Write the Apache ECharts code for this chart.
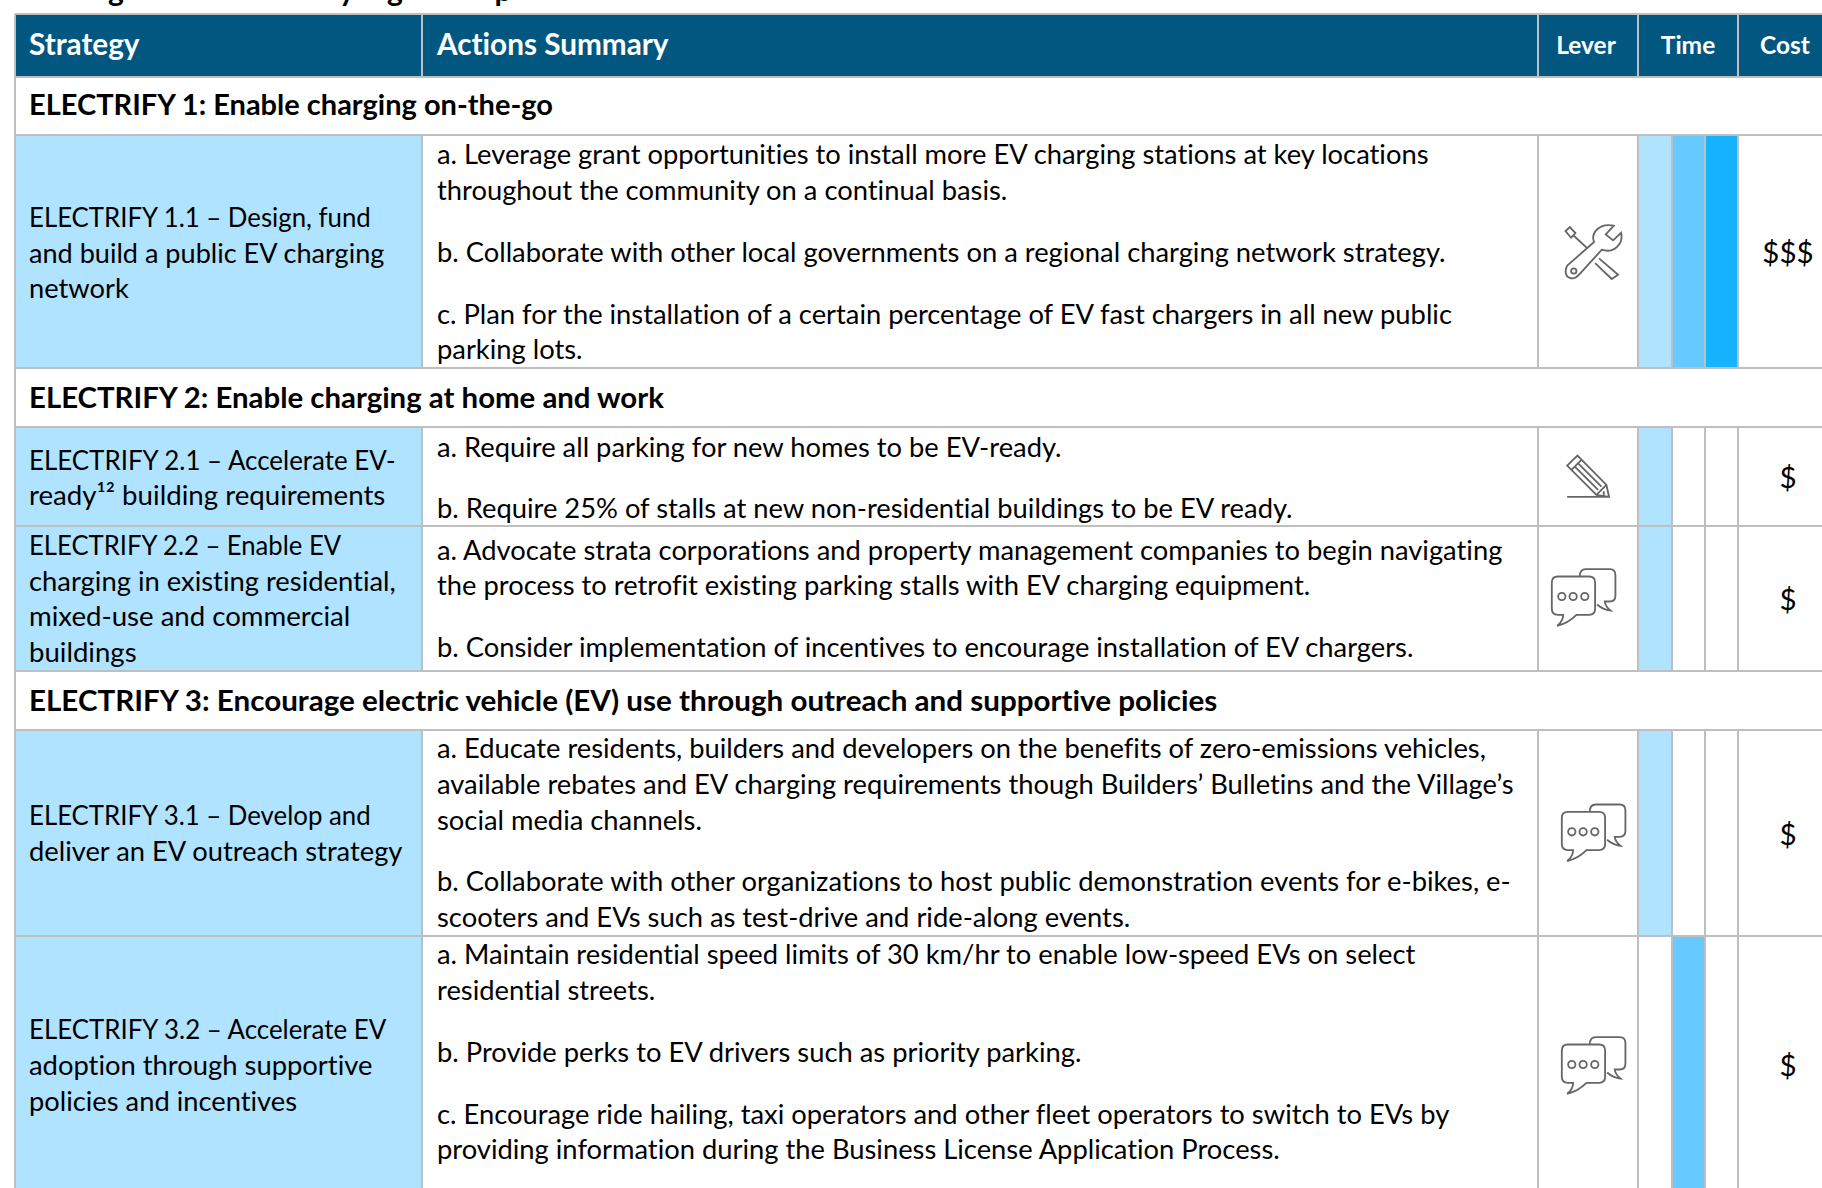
<!DOCTYPE html>
<html><head><meta charset="utf-8">
<style>html,body{margin:0;padding:0;background:#fff}#c{width:1822px;height:1188px}svg text{font-variant-ligatures:none!important}</style>
<script src="https://cdn.jsdelivr.net/npm/echarts@6/dist/echarts.min.js"></script></head>
<body><div id="c"></div>
<script>
// ---- table content ----
const titleFragments = ['g','y','g','p'];   // only the descenders of the cut-off heading are visible
const headers = ['Strategy','Actions Summary','Lever','Time','Cost'];
const sections = ['ELECTRIFY 1: Enable charging on-the-go','ELECTRIFY 2: Enable charging at home and work','ELECTRIFY 3: Encourage electric vehicle (EV) use through outreach and supportive policies'];
const strategies = [
 ['ELECTRIFY 1.1 – Design, fund','and build a public EV charging','network'],
 ['ELECTRIFY 2.1 – Accelerate EV-','ready¹² building requirements'],
 ['ELECTRIFY 2.2 – Enable EV','charging in existing residential,','mixed-use and commercial','buildings'],
 ['ELECTRIFY 3.1 – Develop and','deliver an EV outreach strategy'],
 ['ELECTRIFY 3.2 – Accelerate EV','adoption through supportive','policies and incentives']
];
const actions = [
 ['a. Leverage grant opportunities to install more EV charging stations at key locations','throughout the community on a continual basis.','','b. Collaborate with other local governments on a regional charging network strategy.','','c. Plan for the installation of a certain percentage of EV fast chargers in all new public','parking lots.'],
 ['a. Require all parking for new homes to be EV-ready.','','b. Require 25% of stalls at new non-residential buildings to be EV ready.'],
 ['a. Advocate strata corporations and property management companies to begin navigating','the process to retrofit existing parking stalls with EV charging equipment.','','b. Consider implementation of incentives to encourage installation of EV chargers.'],
 ['a. Educate residents, builders and developers on the benefits of zero-emissions vehicles,','available rebates and EV charging requirements though Builders’ Bulletins and the Village’s','social media channels.','','b. Collaborate with other organizations to host public demonstration events for e-bikes, e-','scooters and EVs such as test-drive and ride-along events.'],
 ['a. Maintain residential speed limits of 30 km/hr to enable low-speed EVs on select','residential streets.','','b. Provide perks to EV drivers such as priority parking.','','c. Encourage ride hailing, taxi operators and other fleet operators to switch to EVs by','providing information during the Business License Application Process.']
];
const levers = ['tools','pencil','chat','chat','chat'];
const timeLevels = [[0,1,2],[0],[0],[0],[1]];
const costs = ['$$$','$','$','$','$'];

// ---- layout ----
const W=1822,H=1188;
const colX=[15,422,1538,1638,1672,1705,1738,1822];
const rowY=[14,77,135,368,427,526,671,730,936,1188];
const sectionRows=[[77,135],[368,427],[671,730]];
const strategyRows=[[135,368],[427,526],[526,671],[730,936],[936,1188]];
const strategyCentre=[252.2,477.2,598,832.5,1064.5];
const actionTop=[153.6,446,549,747.5,953.6];
const costCentre=[251.5,476,598,833,1064];
const leverCentre=[[1593.3,252.3],[1588.3,476.7],[1583.3,596.7],[1593.3,832],[1593.3,1064.7]];
const titleX=[116,347,395,503];
const sectionStretch=[1,1.013,1.02];
const strategyStretch=[[.945,.993,1],[.949,1.013],[.94,1.003,1.011,1.01],[.945,1],[.948,1.003,1]];
const LH=35.8, blank=26;
const timeColors=['#B0E3FF','#66CAFF','#17B3FF'];
const rule='#BFBFBF', ink='#000000', head='#015780', stratFill='#B0E3FF';
const FONT='Lato';
const BODY=27.3, ACTION=27.33, SECTION=29, COST=29.5;

// icon outlines, in 3x units around the icon's centre
const ICONS={
 tools:[[580,757],'M503 797 L583 727 C572 700 600 668 642 678 L618 704 L640 722 L664 699 C672 735 640 762 606 750 L538 825 C520 845 495 835 498 812 C499 805 500 800 503 797 Z M530 814 A8 8 0 1 0 514 814 A8 8 0 1 0 530 814 Z M497 694 L510 682 L527 700 L514 714 Z M522 708 L562 745 M598 776 L655 825 L636 838 L586 790'],
 pencil:[[565,230],'M502 197 L533 167 L620 255 L628 291 L590 285 Z M515 210 L545 180 M525 200 L595 270 M535 190 L605 260 M590 285 L620 255 M502 291 L628 291 M612 274 L612 291'],
 chat:[[550,590],'M456 548 Q456 530 474 530 L568 530 Q586 530 586 548 L586 627 Q586 645 568 645 L530 645 Q505 670 472 678 Q490 665 490 645 L474 645 Q456 645 456 627 Z M540 530 Q540 508 558 508 L630 508 Q647 508 647 526 L647 587 Q647 605 630 605 L615 605 Q617 620 632 632 Q610 630 592 614 M497 590 A11 11 0 1 0 475 590 A11 11 0 1 0 497 590 Z M531 590 A11 11 0 1 0 509 590 A11 11 0 1 0 531 590 Z M566 590 A11 11 0 1 0 544 590 A11 11 0 1 0 566 590 Z']
};

function buildItems(){
 const it=[];
 const rect=(x0,y0,x1,y1,fill)=>it.push({k:'r',x0,y0,x1,y1,fill});
 const line=(x0,y0,x1,y1)=>it.push({k:'l',x0,y0,x1,y1});
 const txt=(x,y,text,o)=>it.push(Object.assign({k:'t',x,y,text},o));
 titleFragments.forEach((t,i)=>txt(titleX[i],-11,t,{size:30,weight:700,color:ink,align:'center'}));
 rect(colX[0],rowY[0],W,rowY[1],head);
 strategyRows.forEach((r,i)=>{
  rect(colX[0],r[0],colX[1],r[1],stratFill);
  timeLevels[i].forEach(l=>rect(colX[3+l],r[0],colX[4+l],r[1],timeColors[l]));
 });
 rowY.slice(0,-1).forEach(y=>line(colX[0],y,W,y));
 line(colX[0],rowY[0],colX[0],H);
 [colX[1],colX[2],colX[3],colX[6]].forEach(x=>line(x,rowY[0],x,rowY[1]));
 strategyRows.forEach(r=>{
  colX.slice(1,7).forEach(x=>line(x,r[0],x,r[1]));
 });
 txt(29,43.6,headers[0],{size:29.7,weight:700,color:'#fff'});
 txt(437,43.6,headers[1],{size:29.7,weight:700,color:'#fff'});
 txt(1586,44,headers[2],{size:24.5,weight:700,color:'#fff',align:'center'});
 txt(1688,44,headers[3],{size:24.5,weight:700,color:'#fff',align:'center'});
 txt(1785,44,headers[4],{size:24.5,weight:700,color:'#fff',align:'center'});
 sectionRows.forEach((r,i)=>txt(29,(r[0]+r[1])/2-1.5+[-1,1,1][i],sections[i],{size:SECTION,weight:700,color:ink,sx:sectionStretch[i]}));
 strategyRows.forEach((r,i)=>{
  const s=strategies[i], mid=strategyCentre[i];
  s.forEach((t,j)=>txt(29,mid+(j-(s.length-1)/2)*35.6,t,{size:BODY,color:ink,sx:strategyStretch[i][j]}));
  let y=actionTop[i];
  actions[i].forEach(t=>{
   if(t===''){y+=blank;return;}
   txt(437,y,t,{size:ACTION,color:ink});y+=LH;
  });
  txt(1788,costCentre[i],costs[i],{size:COST,color:ink,align:'center'});
  it.push({k:'i',name:levers[i],cx:leverCentre[i][0],cy:leverCentre[i][1]});
 });
 return it;
}
const items=buildItems();

const chart=echarts.init(document.getElementById('c'),null,{renderer:'svg'});
chart.setOption({
 animation:false,
 backgroundColor:'#fff',
 grid:{left:0,top:0,right:0,bottom:0},
 xAxis:{type:'value',min:0,max:W,show:false},
 yAxis:{type:'value',min:0,max:H,inverse:true,show:false},
 series:[{
  type:'custom',coordinateSystem:'cartesian2d',clip:false,silent:true,
  data:items.map((d,i)=>[i]),
  encode:{x:0,y:0},
  renderItem(params,api){
   const d=items[params.dataIndex];
   if(d.k==='r'){
    const a=api.coord([d.x0,d.y0]),b=api.coord([d.x1,d.y1]);
    return {type:'rect',shape:{x:a[0],y:a[1],width:b[0]-a[0],height:b[1]-a[1]},style:{fill:d.fill}};
   }
   if(d.k==='l'){
    const a=api.coord([d.x0,d.y0]),b=api.coord([d.x1,d.y1]);
    return {type:'line',shape:{x1:a[0],y1:a[1],x2:b[0],y2:b[1]},style:{stroke:rule,lineWidth:2}};
   }
   if(d.k==='t'){
    const a=api.coord([d.x,d.y]);
    return {type:'text',x:a[0],y:a[1],scaleX:d.sx||1,style:{text:d.text,fill:d.color,font:(d.weight||400)+' '+d.size+'px '+FONT,textAlign:d.align||'left',textVerticalAlign:'middle'}};
   }
   const a=api.coord([d.cx,d.cy]), ic=ICONS[d.name];
   return {type:'path',x:a[0]-ic[0][0]/3,y:a[1]-ic[0][1]/3,scaleX:1/3,scaleY:1/3,
    shape:{pathData:ic[1]},
    style:{fill:'none',stroke:'#666666',lineWidth:5.5}};
  }
 }]
});
</script></body></html>
